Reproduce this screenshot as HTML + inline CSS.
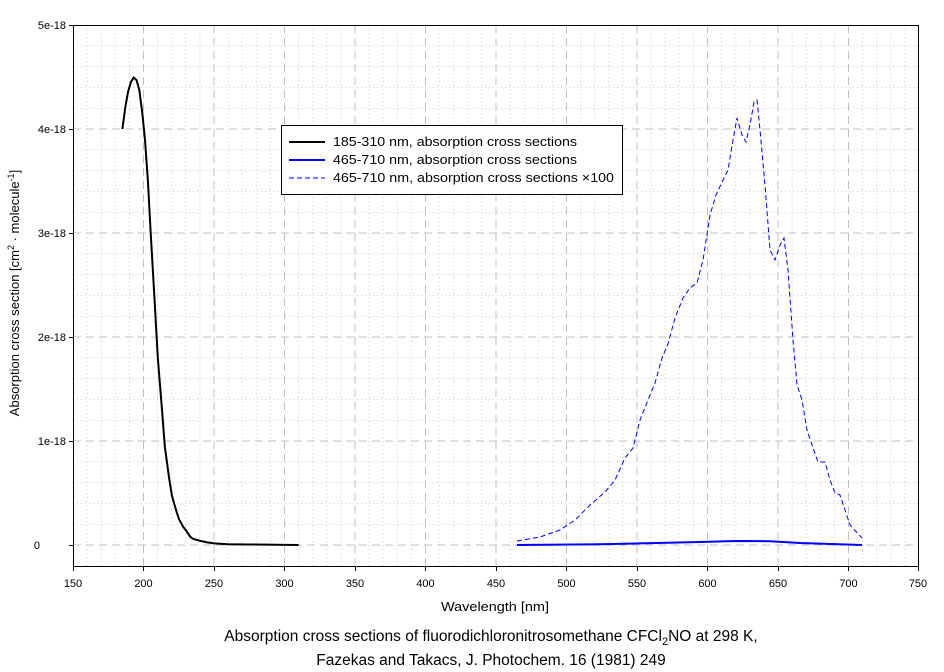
<!DOCTYPE html>
<html><head><style>body{margin:0;background:#fff}svg{display:block}text{font-family:"Liberation Sans",sans-serif;fill:#000}</style></head>
<body>
<svg width="944" height="672" viewBox="0 0 944 672" xmlns="http://www.w3.org/2000/svg">
<g stroke="#c8c8c8" stroke-width="1" stroke-dasharray="1,3">
<path d="M87.1 25V566M101.2 25V566M115.3 25V566M129.4 25V566M157.6 25V566M171.7 25V566M185.8 25V566M199.9 25V566M228.1 25V566M242.2 25V566M256.3 25V566M270.4 25V566M298.6 25V566M312.7 25V566M326.8 25V566M340.9 25V566M369.1 25V566M383.2 25V566M397.3 25V566M411.4 25V566M439.6 25V566M453.7 25V566M467.8 25V566M481.9 25V566M510.1 25V566M524.2 25V566M538.3 25V566M552.4 25V566M580.6 25V566M594.7 25V566M608.8 25V566M622.9 25V566M651.1 25V566M665.2 25V566M679.3 25V566M693.4 25V566M721.6 25V566M735.7 25V566M749.8 25V566M763.9 25V566M792.1 25V566M806.2 25V566M820.3 25V566M834.4 25V566M862.6 25V566M876.7 25V566M890.8 25V566M904.9 25V566"/>
<path d="M73 45.8H918M73 66.6H918M73 87.4H918M73 108.2H918M73 149.8H918M73 170.6H918M73 191.4H918M73 212.2H918M73 253.8H918M73 274.6H918M73 295.4H918M73 316.2H918M73 357.8H918M73 378.6H918M73 399.4H918M73 420.2H918M73 461.8H918M73 482.6H918M73 503.4H918M73 524.2H918"/>
</g>
<g stroke="#c0c0c0" stroke-width="1" stroke-dasharray="8,5">
<path d="M143.5 25V566M214 25V566M284.5 25V566M355 25V566M425.5 25V566M496 25V566M566.5 25V566M637 25V566M707.5 25V566M778 25V566M848.5 25V566"/>
<path d="M73 129H918M73 233H918M73 337H918M73 441H918M73 545H918"/>
</g>
<rect x="73.5" y="25.5" width="845" height="541" fill="none" stroke="#000"/>
<g stroke="#000"><path d="M69 25.5H73M69 129.5H73M69 233.5H73M69 337.5H73M69 441.5H73M69 545.5H73"/>
<path d="M73.5 566V571M143.5 566V571M214.5 566V571M284.5 566V571M355.5 566V571M425.5 566V571M496.5 566V571M566.5 566V571M637.5 566V571M707.5 566V571M778.5 566V571M848.5 566V571M918.5 566V571"/></g>
<g font-size="11" text-anchor="end">
<text x="66" y="29">5e-18</text><text x="66" y="133">4e-18</text><text x="66" y="237">3e-18</text><text x="66" y="341">2e-18</text><text x="66" y="445">1e-18</text><text x="40" y="549">0</text></g>
<g font-size="11" text-anchor="middle">
<text x="73" y="587">150</text><text x="143.5" y="587">200</text><text x="214" y="587">250</text><text x="284.5" y="587">300</text><text x="355" y="587">350</text><text x="425.5" y="587">400</text><text x="496" y="587">450</text><text x="566.5" y="587">500</text><text x="637" y="587">550</text><text x="707.5" y="587">600</text><text x="778" y="587">650</text><text x="848.5" y="587">700</text><text x="918" y="587">750</text></g>
<text x="441" y="611" font-size="13" textLength="108" lengthAdjust="spacingAndGlyphs">Wavelength [nm]</text>
<text transform="translate(19,293) rotate(-90)" font-size="13" text-anchor="middle">Absorption cross section [cm<tspan dy="-5" font-size="9">2</tspan><tspan dy="5"> · molecule</tspan><tspan dy="-5" font-size="9">-1</tspan><tspan dy="5">]</tspan></text>
<text x="491" y="641" font-size="15.5" text-anchor="middle">Absorption cross sections of fluorodichloronitrosomethane CFCl<tspan dy="4" font-size="11">2</tspan><tspan dy="-4">NO at 298 K,</tspan></text>
<text x="491" y="665" font-size="15.5" text-anchor="middle">Fazekas and Takacs, J. Photochem. 16 (1981) 249</text>
<path fill="none" stroke="#000" stroke-width="2" d="M122.4 129L125.2 108 128 92 130.9 82 133.7 77.5 136.5 80 139.3 90 142.2 112 145 140 147.9 181 150.7 233 154.9 305.8 157.8 357.8 162 409.8 164.8 446.2 169 477.4 171.9 495.6 176.1 510.2 178.9 519 183.1 526.7 186 530.5 190.2 536.7 193 538.8 200.1 540.8 207.2 542.4 214.2 543.4 228.3 544.2 249.5 544.5 298.6 545"/>
<path fill="none" stroke="#00f" stroke-width="2" d="M517 545L600 544.3 700 542 735 541 770 541.2 800 543 862 545"/>
<path fill="none" stroke="#00f" stroke-width="1" stroke-dasharray="5,3" d="M517 541L540 537 560 530 575 520 590 505 605 492 615 480 625 458 633 448 640 420 648 400 655 383 662 358 668 344 675 318 683 298 690 288 697 283 703 260 710 215 716 195 723 180 728 170 733 140 737 118 742 135 746 142 750 125 754 102 757 100 760 130 765 185 770 250 775 260 780 245 784 238 788 270 793 340 797 385 802 400 807 430 812 445 818 462 825 462 830 480 835 493 840 495 845 510 850 525 862 538"/>
<rect x="281.5" y="125.5" width="341" height="69" fill="#fff" stroke="#000"/>
<path d="M289 142H325" stroke="#000" stroke-width="2"/>
<path d="M289 160H325" stroke="#00f" stroke-width="2"/>
<path d="M289 178H325" stroke="#00f" stroke-width="1" stroke-dasharray="5,3"/>
<g font-size="13"><text x="333" y="146" textLength="244" lengthAdjust="spacingAndGlyphs">185-310 nm, absorption cross sections</text><text x="333" y="164" textLength="244" lengthAdjust="spacingAndGlyphs">465-710 nm, absorption cross sections</text><text x="333" y="182" textLength="281" lengthAdjust="spacingAndGlyphs">465-710 nm, absorption cross sections ×100</text></g>
</svg>
</body></html>
